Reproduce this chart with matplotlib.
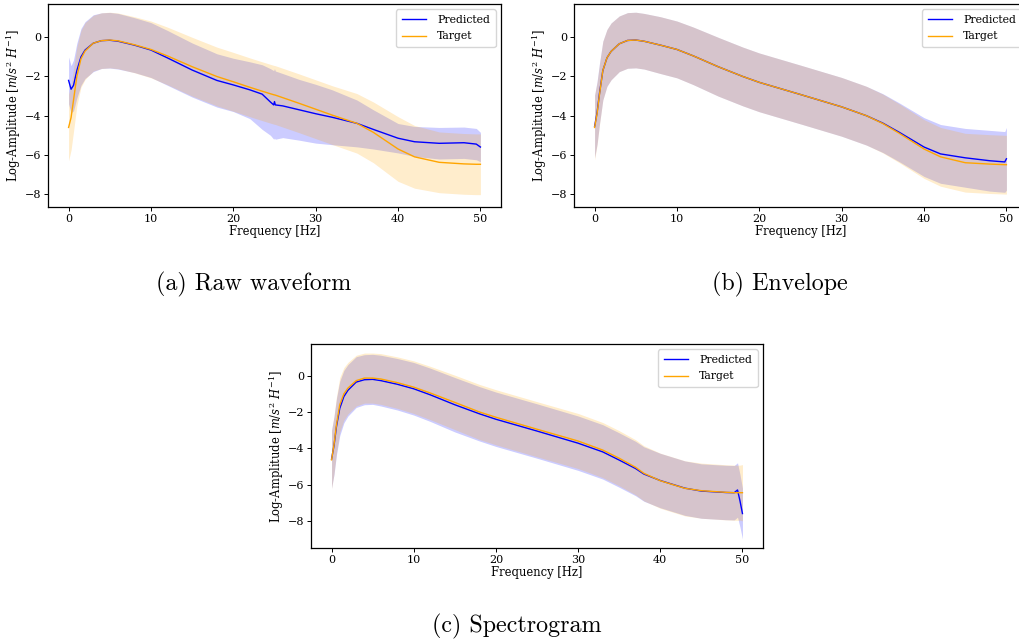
import numpy as np
import matplotlib
matplotlib.use("Agg")
import matplotlib.pyplot as plt

plt.rcParams['font.family'] = 'DejaVu Serif'
plt.rcParams['mathtext.fontset'] = 'dejavuserif'
plt.rcParams['font.size'] = 8

# ---- (a) raw waveform ----
freq_a = [0, 0.3, 0.6, 1.0, 1.5, 2.0, 3.0, 4.0, 5.0, 6.0, 8.0, 10, 12, 15, 18, 20,
          22, 23.5, 24.5, 24.9, 25.0, 25.1, 26, 28, 30, 32, 35, 37, 40, 42, 45, 48, 49.5, 50]
tgt_mean_a = [-4.6, -4.1, -3.2, -2.0, -1.1, -0.7, -0.3, -0.17, -0.14, -0.18, -0.38, -0.62,
              -0.95, -1.5, -2.0, -2.27, -2.55, -2.75, -2.88, -2.93, -2.94, -2.95, -3.08,
              -3.37, -3.67, -3.97, -4.39, -4.85, -5.7, -6.1, -6.38, -6.46, -6.48, -6.48]
tgt_std_a = [1.7, 1.65, 1.6, 1.5, 1.45, 1.45, 1.42, 1.42, 1.42, 1.42, 1.43, 1.45, 1.47,
             1.5, 1.5, 1.5, 1.5, 1.5, 1.5, 1.5, 1.5, 1.5, 1.5, 1.5, 1.5, 1.5, 1.52, 1.55,
             1.65, 1.6, 1.55, 1.55, 1.55, 1.55]
pred_mean_a = [-2.2, -2.65, -2.45, -1.7, -1.0, -0.65, -0.3, -0.17, -0.15, -0.2, -0.4, -0.65,
               -1.05, -1.67, -2.2, -2.43, -2.68, -2.9, -3.3, -3.45, -3.28, -3.45, -3.5,
               -3.7, -3.9, -4.08, -4.39, -4.7, -5.15, -5.33, -5.41, -5.38, -5.45, -5.6]
pred_upper_a = [-1.0, -1.45, -1.15, -0.3, 0.45, 0.8, 1.15, 1.25, 1.27, 1.22, 1.0, 0.75,
                0.35, -0.29, -0.84, -1.07, -1.25, -1.4, -1.6, -1.7, -1.6, -1.72, -1.85,
                -2.15, -2.4, -2.68, -3.2, -3.7, -4.4, -4.55, -4.6, -4.58, -4.65, -4.85]
pred_lower_a = [-3.4, -3.85, -3.75, -3.1, -2.45, -2.1, -1.75, -1.59, -1.57, -1.62, -1.8,
                -2.05, -2.45, -3.05, -3.56, -3.79, -4.15, -4.7, -5.0, -5.2, -5.15, -5.2,
                -5.12, -5.25, -5.4, -5.48, -5.59, -5.7, -5.9, -6.08, -6.21, -6.18, -6.25,
                -6.35]

# ---- (b) envelope ----
freq_b = [0, 0.3, 0.6, 1.0, 1.5, 2.0, 3.0, 4.0, 5.0, 6.0, 8.0, 10, 12, 15, 18, 20, 25,
          30, 33, 35, 37, 40, 42, 45, 48, 49.8, 50]
tgt_mean_b = [-4.6, -3.9, -2.9, -1.7, -1.05, -0.72, -0.33, -0.16, -0.14, -0.2, -0.4, -0.62,
              -0.95, -1.5, -2.0, -2.3, -2.92, -3.55, -4.0, -4.4, -4.9, -5.7, -6.1, -6.4,
              -6.47, -6.5, -6.5]
tgt_std_b = [1.65, 1.6, 1.55, 1.5, 1.45, 1.45, 1.42, 1.42, 1.42, 1.42, 1.45, 1.45, 1.47,
             1.5, 1.5, 1.5, 1.5, 1.5, 1.5, 1.5, 1.5, 1.5, 1.5, 1.5, 1.5, 1.5, 1.5]
pred_mean_b = [-4.55, -3.85, -2.85, -1.7, -1.05, -0.72, -0.33, -0.16, -0.14, -0.2, -0.4,
               -0.62, -0.95, -1.5, -2.0, -2.3, -2.92, -3.55, -4.0, -4.38, -4.85, -5.6,
               -5.95, -6.15, -6.3, -6.36, -6.2]
pred_std_b = [1.6, 1.6, 1.55, 1.5, 1.45, 1.45, 1.42, 1.42, 1.42, 1.42, 1.45, 1.45, 1.47,
              1.5, 1.5, 1.5, 1.5, 1.5, 1.5, 1.5, 1.5, 1.5, 1.5, 1.5, 1.55, 1.55, 1.6]

# ---- (c) spectrogram ----
freq_c = [0, 0.3, 0.6, 1.0, 1.5, 2.0, 3.0, 4.0, 5.0, 6.0, 8.0, 10, 12, 15, 18, 20, 25,
          30, 33, 35, 37, 38, 40, 43, 45, 48, 49, 49.4, 49.7, 50]
tgt_mean_c = [-4.64, -3.8, -2.7, -1.6, -1.0, -0.68, -0.27, -0.13, -0.13, -0.18, -0.38,
              -0.63, -0.95, -1.47, -2.0, -2.29, -2.95, -3.6, -4.1, -4.55, -5.05, -5.38,
              -5.79, -6.21, -6.34, -6.43, -6.45, -6.45, -6.45, -6.45]
tgt_std_c = [1.6, 1.6, 1.55, 1.5, 1.45, 1.42, 1.4, 1.38, 1.38, 1.4, 1.42, 1.45, 1.47,
             1.5, 1.52, 1.52, 1.52, 1.52, 1.52, 1.52, 1.52, 1.52, 1.52, 1.52, 1.52, 1.52,
             1.52, 1.52, 1.52, 1.55]
pred_mean_c = [-4.6, -3.85, -2.8, -1.8, -1.15, -0.8, -0.35, -0.22, -0.2, -0.27, -0.47,
               -0.72, -1.05, -1.6, -2.1, -2.4, -3.05, -3.72, -4.2, -4.65, -5.12, -5.42,
               -5.78, -6.2, -6.36, -6.44, -6.45, -6.3, -6.9, -7.6]
pred_std_c = [1.6, 1.6, 1.55, 1.5, 1.45, 1.42, 1.4, 1.38, 1.38, 1.4, 1.42, 1.45, 1.47,
              1.5, 1.5, 1.5, 1.5, 1.5, 1.5, 1.5, 1.5, 1.5, 1.5, 1.5, 1.5, 1.5, 1.5, 1.5,
              1.45, 1.4]

W, H = 1019, 644


def panel_rect(left, top, right, bottom):
    return [left / W, 1 - bottom / H, (right - left) / W, (bottom - top) / H]


def draw_panel(ax, freq, pm, p_lo, p_hi, tm, t_lo, t_hi, ylim):
    ax.plot(freq, pm, color='blue', lw=1.0, label='Predicted')
    ax.fill_between(freq, p_lo, p_hi, color='blue', alpha=0.2, lw=0)
    ax.plot(freq, tm, color='orange', lw=1.0, label='Target')
    ax.fill_between(freq, t_lo, t_hi, color='orange', alpha=0.2, lw=0)
    ax.set_xlim(-2.5, 52.5)
    ax.set_ylim(*ylim)
    ax.set_xticks([0, 10, 20, 30, 40, 50])
    ax.set_yticks([0, -2, -4, -6, -8])
    ax.set_xlabel('Frequency [Hz]', labelpad=1, fontsize=8.3)
    ax.set_ylabel(r'Log-Amplitude [$m/s^2\ H^{-1}$]', labelpad=1, fontsize=8.3)
    ax.tick_params(length=3, width=0.7, pad=2, labelsize=8)
    for sp in ax.spines.values():
        sp.set_linewidth(0.9)
    ax.legend(loc='upper right', fontsize=7.8, handlelength=2.3, labelspacing=0.6,
              handletextpad=1.0, borderpad=0.5)


def band(mean, std):
    mean, std = np.asarray(mean), np.asarray(std)
    return mean - std, mean + std


fig = plt.figure(figsize=(W / 100, H / 100), dpi=100)

ax_a = fig.add_axes(panel_rect(48, 4, 501, 207))
draw_panel(ax_a, freq_a, pred_mean_a, pred_lower_a, pred_upper_a,
           tgt_mean_a, *band(tgt_mean_a, tgt_std_a), (-8.66, 1.70))

ax_b = fig.add_axes(panel_rect(574, 4, 1027, 207))
draw_panel(ax_b, freq_b, pred_mean_b, *band(pred_mean_b, pred_std_b),
           tgt_mean_b, *band(tgt_mean_b, tgt_std_b), (-8.66, 1.70))

ax_c = fig.add_axes(panel_rect(311, 344, 763, 548))
draw_panel(ax_c, freq_c, pred_mean_c, *band(pred_mean_c, pred_std_c),
           tgt_mean_c, *band(tgt_mean_c, tgt_std_c), (-9.5, 1.75))

cap = dict(family='cmr10', fontsize=17.3, ha='center', va='center')
fig.text(254 / W, 1 - 284 / H, '(a) Raw waveform', **cap)
fig.text(780 / W, 1 - 284 / H, '(b) Envelope', **cap)
fig.text(517 / W, 1 - 626 / H, '(c) Spectrogram', **cap)

fig.savefig('out.png', dpi=100)
